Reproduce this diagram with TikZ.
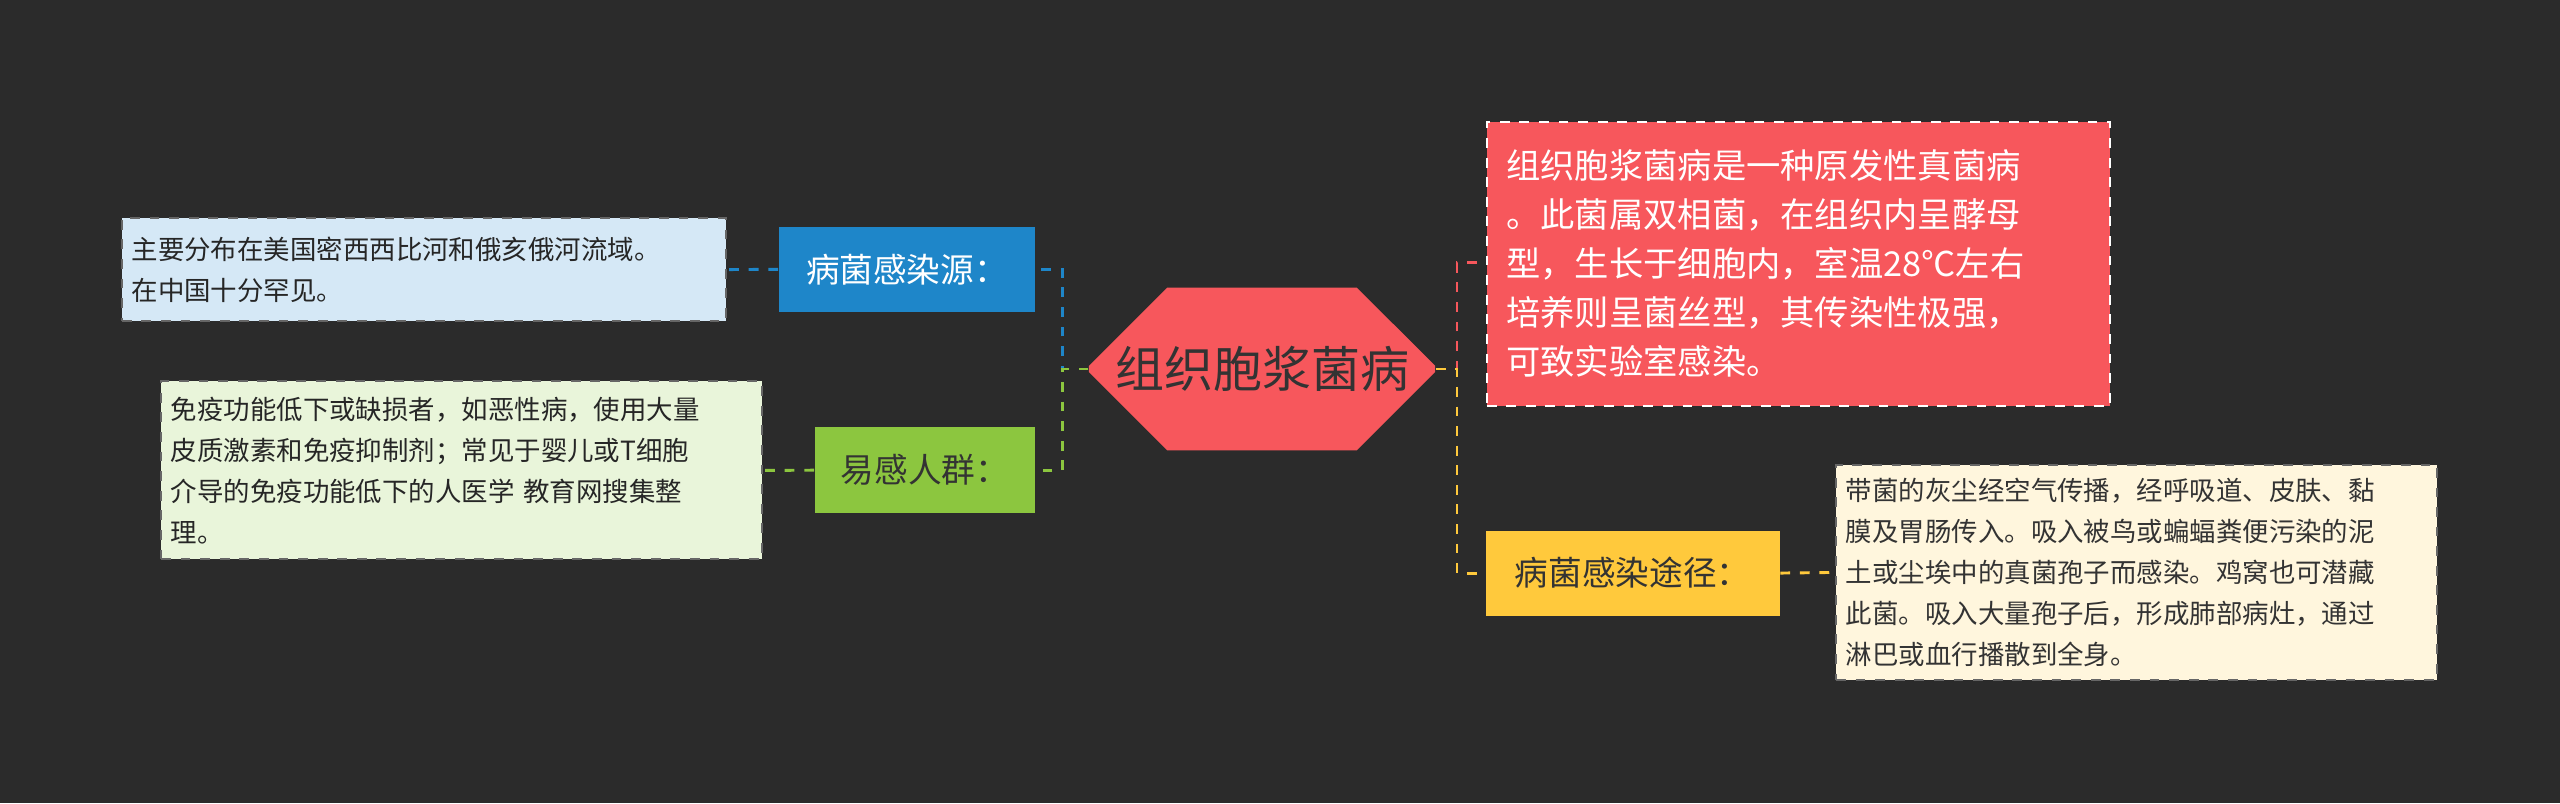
\documentclass[tikz,border=0pt]{standalone}
\usepackage{fontspec}
\setmainfont{Noto Sans CJK SC}
\usetikzlibrary{shapes.misc,shapes.geometric}
\definecolor{bg}{HTML}{2B2B2B}
\definecolor{cred}{HTML}{F7575C}
\definecolor{cyel}{HTML}{FFC93C}
\definecolor{cblu}{HTML}{1E86C9}
\definecolor{cgrn}{HTML}{8CC63F}
\definecolor{lblu}{HTML}{D5E8F6}
\definecolor{lgrn}{HTML}{E9F5DA}
\definecolor{lyel}{HTML}{FFF6DD}
\begin{document}
\begin{tikzpicture}[x=0.5pt,y=-0.5pt,
  box/.style={draw, dashed, line width=0.6pt, inner sep=0pt, align=left, anchor=north west},
  con/.style={dashed, line width=0.9pt}]
\fill[bg] (0,0) rectangle (1568,492);
\useasboundingbox (0,0) rectangle (1568,492);
% center
\node[chamfered rectangle, chamfered rectangle xsep=6pt, chamfered rectangle ysep=18pt, fill=cred, minimum width=106pt, minimum height=36pt, inner sep=0pt, text=black!80, font=\fontsize{15}{17}\selectfont] (c) at (773,226) {组织胞浆菌病};
% right top
\node[box, draw=white!70, fill=cred, text=white, minimum width=187pt, minimum height=87pt, text width=179pt, inner xsep=6pt, font=\fontsize{10.5}{15}\selectfont] (rt) at (910,74) {组织胞浆菌病是一种原发性真菌病\\。此菌属双相菌，在组织内呈酵母\\型，生长于细胞内，室温28℃左右\\培养则呈菌丝型，其传染性极强，\\可致实验室感染。};
% yellow
\node[fill=cyel, minimum width=90pt, minimum height=26pt, inner sep=0pt, text=black!80, font=\fontsize{10.3}{11}\selectfont] (y) at (1000,351) {病菌感染途径：};
\node[box, draw=black!60, fill=lyel, text=black!80, minimum width=184pt, minimum height=66pt, text width=178pt, inner xsep=3pt, inner ysep=4pt, font=\fontsize{8.1}{12.6}\selectfont] (yt) at (1124,284) {带菌的灰尘经空气传播，经呼吸道、皮肤、黏\\膜及胃肠传入。吸入被鸟或蝙蝠粪便污染的泥\\土或尘埃中的真菌孢子而感染。鸡窝也可潜藏\\此菌。吸入大量孢子后，形成肺部病灶，通过\\淋巴或血行播散到全身。};
% blue
\node[fill=cblu, minimum width=78.5pt, minimum height=26pt, inner sep=0pt, text=white, font=\fontsize{10.3}{11}\selectfont] (b) at (555.5,165) {病菌感染源：};
\node[box, draw=black!60, fill=lblu, text=black!85, minimum width=185pt, minimum height=31.5pt, text width=179pt, inner xsep=3pt, inner ysep=4pt, font=\fontsize{8.1}{12.6}\selectfont] (bt) at (74,133) {主要分布在美国密西西比河和俄亥俄河流域。\\在中国十分罕见。};
% green
\node[fill=cgrn, minimum width=67.5pt, minimum height=26.5pt, inner sep=0pt, text=black!80, font=\fontsize{10.3}{11}\selectfont] (g) at (566.5,288) {易感人群：};
\node[box, draw=black!60, fill=lgrn, text=black!85, minimum width=184pt, minimum height=54.5pt, text width=178pt, inner xsep=3pt, inner ysep=4pt, font=\fontsize{8.1}{12.6}\selectfont] (gt) at (98,233) {免疫功能低下或缺损者，如恶性病，使用大量\\皮质激素和免疫抑制剂；常见于婴儿或T细胞\\介导的免疫功能低下的人医学 教育网搜集整\\理。};
% connectors
\draw[con, cblu] (c.west) -- ++(-16,0) |- (b.east);
\draw[con, cgrn] (c.west) -- ++(-16,0) |- (g.east);
\draw[con, cred] (c.east) -- ++(13,0) |- (910,161);
\draw[con, cyel] (c.east) -- ++(13,0) |- (y.west);
\draw[con, cblu] (b.west) -- (bt.east);
\draw[con, cgrn] (g.west) -- (gt.east);
\draw[con, cyel] (y.east) -- (yt.west);
\end{tikzpicture}
\end{document}
